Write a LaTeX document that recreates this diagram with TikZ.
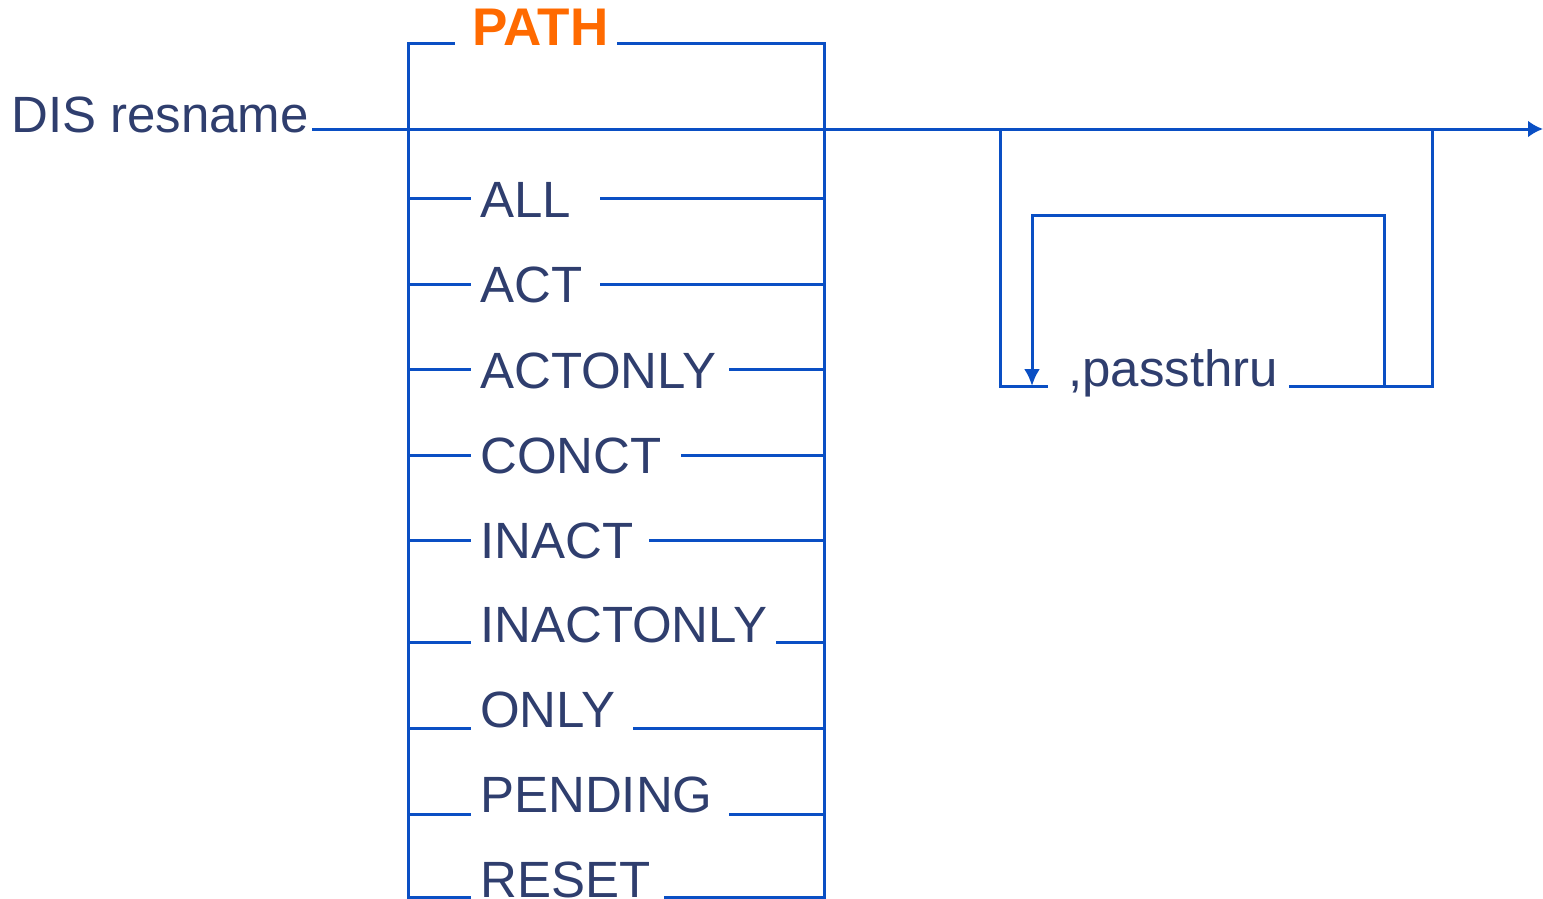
\documentclass[tikz,border=0pt]{standalone}
\usepackage{fontspec}
\setmainfont{Liberation Sans}
\usetikzlibrary{arrows.meta}
\definecolor{ln}{HTML}{0A4FC4}
\definecolor{tx}{HTML}{2F3E6E}
\definecolor{og}{HTML}{FF6A00}
\begin{document}
\begin{tikzpicture}[x=1pt,y=-1pt,
  wire/.style={draw=ln,line width=3pt},
  lbl/.style={anchor=base west,inner sep=0pt,text=tx,font=\fontsize{51}{51}\selectfont},
  ttl/.style={anchor=base west,inner sep=0pt,text=og,font=\fontsize{53}{53}\selectfont\bfseries},
  tipa/.style={-{Latex[length=15pt,width=17pt]}},
  tipb/.style={-{Latex[length=17pt,width=16pt]}}]
\useasboundingbox (0,0) rectangle (1543,899);
% labels
\node[lbl] (dis) at (11,132) {DIS resname};
\node[ttl] (path) at (472,46) {PATH};
\node[lbl] (all) at (480,217) {ALL};
\node[lbl] (act) at (480,302) {ACT};
\node[lbl] (actonly) at (480,388) {ACTONLY};
\node[lbl] (conct) at (480,473) {CONCT};
\node[lbl] (inact) at (480,558) {INACT};
\node[lbl] (inactonly) at (480,642) {INACTONLY};
\node[lbl] (only) at (480,727) {ONLY};
\node[lbl] (pending) at (480,812) {PENDING};
\node[lbl] (reset) at (480,897) {RESET};
\node[lbl] (pass) at (1068,386) {,passthru};
% key coordinates
\coordinate (bl) at (408,44);
\coordinate (br) at (824,44);
\coordinate (blb) at (408,899);
\coordinate (brb) at (824,899);
\coordinate (start) at (312,129);
\coordinate (end) at (1543,129);
\coordinate (lpa) at (1000,129);
\coordinate (lpb) at (1000,386);
\coordinate (rpa) at (1432,129);
\coordinate (rpb) at (1432,386);
\coordinate (ira) at (1384,386);
\coordinate (irb) at (1384,215);
\coordinate (ilb) at (1032,215);
\coordinate (ila) at (1032,386);
% box
\draw[wire] (blb) -- (bl) -- (455,44);
\draw[wire] (617,44) -- (br) -- (brb);
% main line
\draw[wire,tipa] (start) -- (end);
% branches
\foreach \y/\r in {198/600,284/600,369/729,455/681,540/649,642/776,728/633,814/729,897/664}{
  \draw[wire] (408,\y) -- (471,\y);
  \draw[wire] (\r,\y) -- (824,\y);
}
% repeat group
\draw[wire] (lpa) -- (lpb) -- (1048,386);
\draw[wire] (1289,386) -- (rpb) -- (rpa);
\draw[wire,tipb] (ira) -- (irb) -- (ilb) -- (ila);
\end{tikzpicture}
\end{document}
